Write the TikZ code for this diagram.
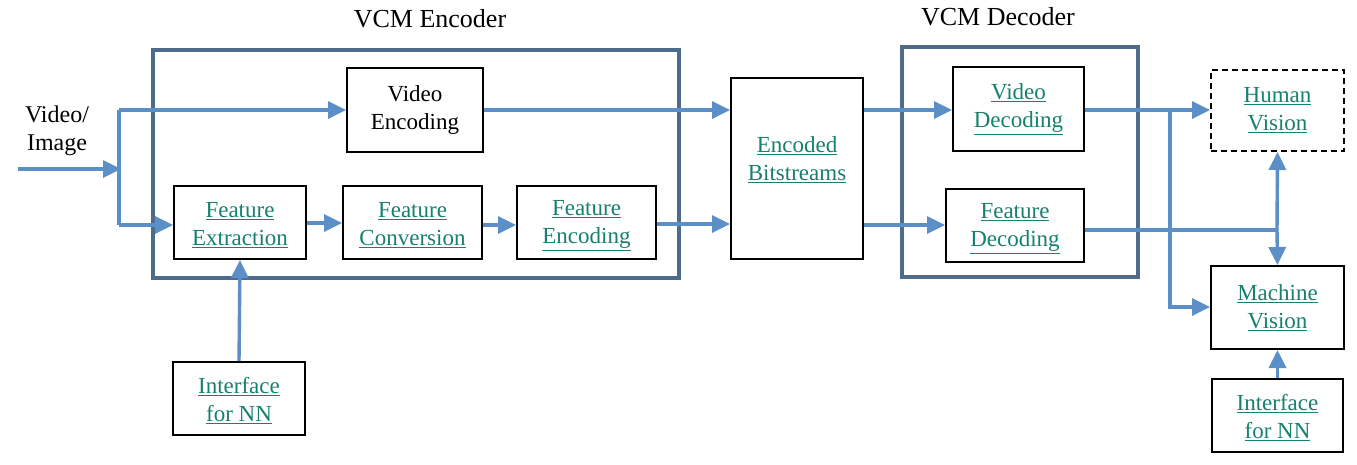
\documentclass[tikz,border=0pt]{standalone}
\usepackage{fontspec}
\setmainfont{Liberation Serif}
\usetikzlibrary{arrows.meta}
\definecolor{arr}{HTML}{5B8FC8}
\definecolor{frame}{HTML}{4F6B8C}
\definecolor{lnk}{HTML}{17806E}
\newcommand{\lk}[1]{\textcolor{lnk}{\underline{#1}}}
\newcommand{\lostrut}{\rule[-3pt]{0pt}{24pt}}
\newcommand{\lo}[2]{\lostrut\lk{#1}\\\lk{#2}\lostrut}
\tikzset{
  blk/.style={draw=black, line width=2pt, fill=white, align=center, inner sep=0pt,
    font=\fontsize{23}{28}\selectfont},
  outer/.style={draw=frame, line width=3.2pt},
  con/.style={draw=arr, line width=3.4pt, -{Triangle[length=18pt,width=17pt]}},
  lin/.style={draw=arr, line width=3.4pt},
}
\begin{document}
\begin{tikzpicture}[x=1pt,y=-1pt]
\useasboundingbox (0,0) rectangle (1357,464);
% outer frames
\draw[outer] (153,50) rectangle (679,278);
\draw[outer] (902,47) rectangle (1138,277);
\node[font=\fontsize{26}{30}\selectfont] (enct) at (430,19) {VCM Encoder};
\node[font=\fontsize{26}{30}\selectfont] (dect) at (998,17) {VCM Decoder};
% boxes
\node[blk, minimum width=136pt, minimum height=84pt] (ve) at (415,110) {Video\\Encoding};
\node[blk, minimum width=132pt, minimum height=73pt] (fe) at (240,222.5) {\lo{Feature}{Extraction}};
\node[blk, minimum width=139pt, minimum height=73pt] (fc) at (412.5,222.5) {\lo{Feature}{Conversion}};
\node[blk, minimum width=139pt, minimum height=73pt] (fen) at (586.5,222.5) {\lo{Feature}{Encoding}};
\node[blk, minimum width=132pt, minimum height=181pt] (eb) at (797,168.5) {};
\node[align=center, font=\fontsize{23}{28}\selectfont] (ebt) at (797,160) {\lk{Encoded}\\\lk{Bitstreams}};
\node[blk, minimum width=131pt, minimum height=84pt] (vd) at (1018.5,109) {\lk{Video}\\\lk{Decoding}};
\node[blk, minimum width=138pt, minimum height=73pt] (fd) at (1015,225.5) {\lo{Feature}{Decoding}};
\node[blk, dash pattern=on 6pt off 4pt, minimum width=133pt, minimum height=81pt] (hv) at (1277.5,110.5) {\lk{Human}\\\lk{Vision}};
\node[blk, minimum width=133pt, minimum height=83pt] (mv) at (1277.5,307.5) {\lk{Machine}\\\lk{Vision}};
\node[blk, minimum width=132pt, minimum height=73pt] (nn1) at (239,398.5) {\lo{Interface}{for NN}};
\node[blk, minimum width=131pt, minimum height=73pt] (nn2) at (1277.5,415.5) {\lo{Interface}{for NN}};
\node[align=center, font=\fontsize{24}{28}\selectfont] (in) at (57,131) {Video/\\Image};
% input
\coordinate (s) at (18,169);
\coordinate (sp) at (121,169);
\coordinate (st) at (119,110);
\coordinate (sb) at (119,225);
\draw[con] (s) -- (sp);
\draw[lin] (st) -- (sb);
\draw[con] (st) -- (ve.west |- st);
\draw[con] (sb) -- (fe.west |- sb);
% encoder chain
\draw[con] (fe.east |- 0,223) -- (fc.west |- 0,223);
\draw[con] (fc.east |- 0,225) -- (fen.west |- 0,225);
\draw[con] (ve.east |- 0,110) -- (eb.west |- 0,110);
\draw[con] (fen.east |- 0,224) -- (eb.west |- 0,224);
\draw[con] (nn1.north) -- (fe.south);
% decoder
\draw[con] (eb.east |- 0,110) -- (vd.west |- 0,110);
\draw[con] (eb.east |- 0,225) -- (fd.west |- 0,225);
\coordinate (br) at (1170,110);
\draw[con] (vd.east |- 0,110) -- (hv.west |- 0,110);
\draw[con] (br) -- (1170,307) -- (mv.west |- 0,307);
\coordinate (j) at (1277,230);
\draw[lin] (fd.east |- j) -- (j);
\draw[con] (j) -- (hv.south);
\draw[con] (j) -- (mv.north);
\draw[con] (nn2.north) -- (mv.south);
\end{tikzpicture}
\end{document}
